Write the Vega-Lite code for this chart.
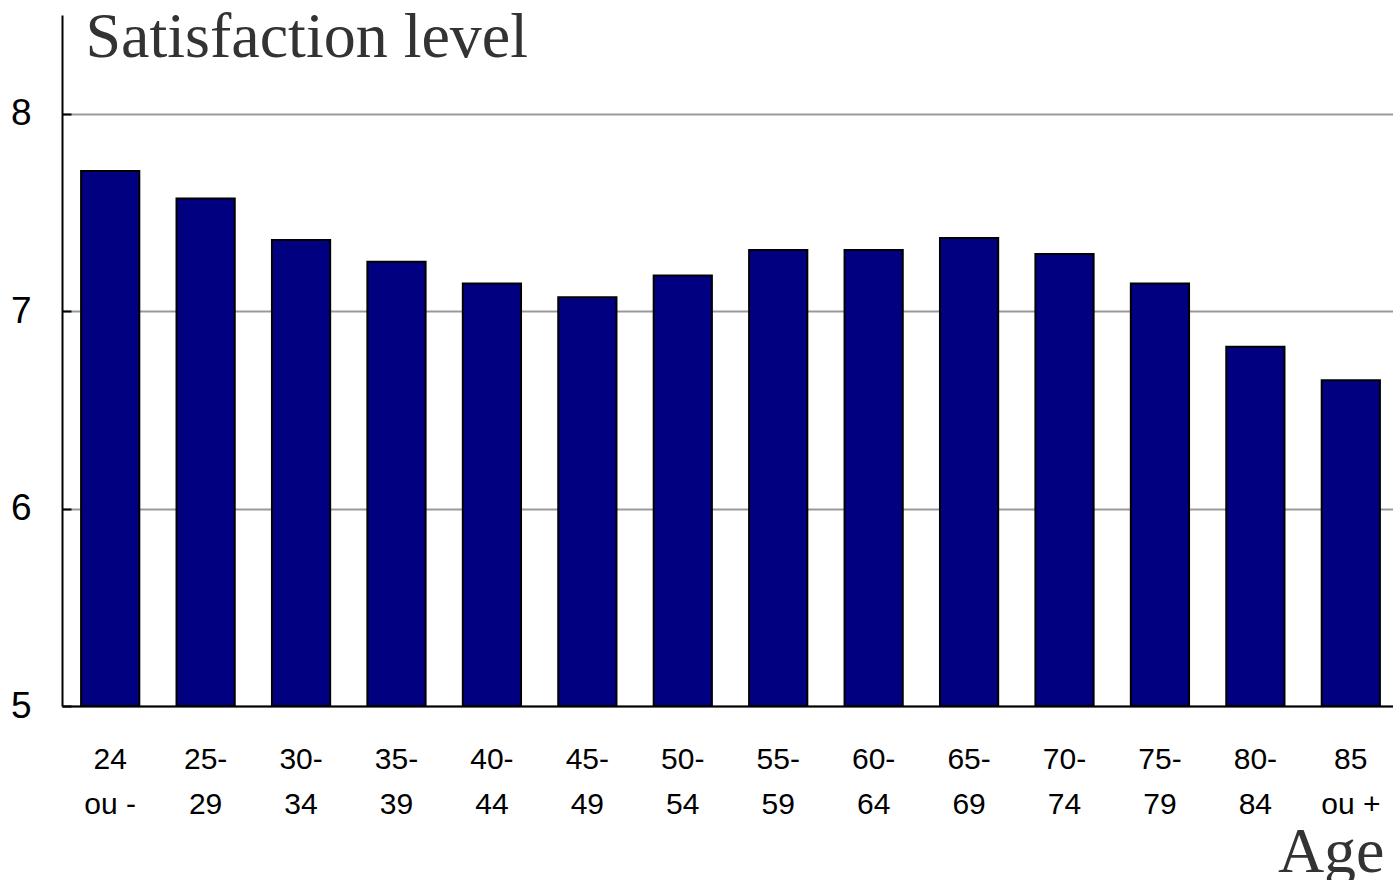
{
  "$schema": "https://vega.github.io/schema/vega-lite/v6.json",
  "autosize": {"type": "none"},
  "padding": {"left": 62, "top": 15, "right": 0, "bottom": 174},
  "width": 1337,
  "height": 691,
  "background": "white",
  "data": {
    "values": [
      {"age": "24|ou -", "satisfaction": 7.71},
      {"age": "25-|29", "satisfaction": 7.57},
      {"age": "30-|34", "satisfaction": 7.36},
      {"age": "35-|39", "satisfaction": 7.25},
      {"age": "40-|44", "satisfaction": 7.14},
      {"age": "45-|49", "satisfaction": 7.07},
      {"age": "50-|54", "satisfaction": 7.18},
      {"age": "55-|59", "satisfaction": 7.31},
      {"age": "60-|64", "satisfaction": 7.31},
      {"age": "65-|69", "satisfaction": 7.37},
      {"age": "70-|74", "satisfaction": 7.29},
      {"age": "75-|79", "satisfaction": 7.14},
      {"age": "80-|84", "satisfaction": 6.82},
      {"age": "85|ou +", "satisfaction": 6.65}
    ]
  },
  "config": {
    "view": {"stroke": null},
    "axis": {"labelFont": "Liberation Sans", "titleFont": "Liberation Serif"}
  },
  "mark": {"type": "bar", "color": "#000080", "stroke": "#000000", "strokeWidth": 2},
  "encoding": {
    "x": {
      "field": "age",
      "type": "nominal",
      "sort": null,
      "scale": {"paddingInner": 0.39, "paddingOuter": 0.2},
      "axis": {
        "title": "Age",
        "titleFontSize": 64,
        "titleFontWeight": "normal",
        "titleColor": "#333333",
        "titleAnchor": null,
        "titleAlign": "right",
        "titleBaseline": "alphabetic",
        "titleX": 1322,
        "titleY": 165,
        "labelExpr": "split(datum.label, '|')",
        "labelAngle": 0,
        "labelFontSize": 30,
        "labelColor": "#000000",
        "labelLineHeight": 45,
        "labelBaseline": "top",
        "labelPadding": 38,
        "ticks": false,
        "domainColor": "#000000",
        "domainWidth": 2,
        "grid": false
      }
    },
    "y": {
      "field": "satisfaction",
      "type": "quantitative",
      "scale": {"domain": [5, 8.5], "zero": false, "nice": false},
      "axis": {
        "title": "Satisfaction level",
        "titleFontSize": 64,
        "titleFontWeight": "normal",
        "titleColor": "#333333",
        "titleAngle": 0,
        "titleAnchor": null,
        "titleAlign": "left",
        "titleBaseline": "alphabetic",
        "titleX": 23,
        "titleY": 41,
        "values": [5, 6, 7, 8],
        "labelFontSize": 37,
        "labelColor": "#000000",
        "labelPadding": 40,
        "ticks": true,
        "tickSize": -9,
        "tickColor": "#000000",
        "tickWidth": 2,
        "domainColor": "#000000",
        "domainWidth": 2,
        "grid": true,
        "gridColor": "#999999",
        "gridWidth": 2
      }
    },
    "y2": {"datum": 5}
  }
}
